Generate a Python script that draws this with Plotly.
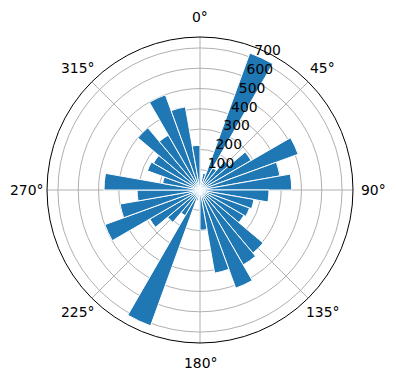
import math
import plotly.graph_objects as go

# 10-degree direction bins (start angle of each bin) and counts
bin_start = [0, 10, 20, 30, 40, 50, 60, 70, 80,
             90, 100, 110, 120, 130, 140, 150, 160, 170,
             180, 190, 200, 210, 220, 230, 240, 250, 260,
             270, 280, 290, 300, 310, 320, 330, 340, 350]
counts = [42, 83, 718, 125, 187, 291, 515, 400, 452,
          340, 270, 260, 250, 406, 426, 515, 416, 198,
          31, 52, 712, 146, 208, 286, 499, 400, 310,
          473, 187, 276, 265, 400, 312, 499, 416, 220]
bin_width = 10
theta_ticks = [0, 45, 90, 135, 180, 225, 270, 315]
theta_labels = [f"{t}°" for t in theta_ticks]
r_ticks = [100, 200, 300, 400, 500, 600, 700]
r_label_angle = 22.5

centers = [b + bin_width / 2 for b in bin_start]
rmax = max(counts) * 1.05

fig = go.Figure()
fig.add_trace(go.Barpolar(
    r=counts, theta=centers, width=[bin_width] * len(counts),
    marker=dict(color="#1f77b4", line=dict(color="white", width=1)),
    hoverinfo="skip",
))
fig.add_trace(go.Scatterpolar(
    r=r_ticks, theta=[r_label_angle] * len(r_ticks),
    mode="text", text=[str(v) for v in r_ticks],
    textposition="top right",
    textfont=dict(family="DejaVu Sans", size=13.9, color="black"),
    hoverinfo="skip", cliponaxis=False,
))

W, H = 396, 380
cx, cy, R = 200, 190, 153
label_pad_r = R * 1.131  # angular tick labels sit just outside the circle

annotations = []
for t, lab in zip(theta_ticks, theta_labels):
    a = math.radians(t)
    px = cx + label_pad_r * math.sin(a)
    py = cy - label_pad_r * math.cos(a)
    annotations.append(dict(
        x=px / W, y=1 - py / H, xref="paper", yref="paper",
        text=lab, showarrow=False, xanchor="center", yanchor="middle",
        font=dict(family="DejaVu Sans", size=13.9, color="black"),
    ))

fig.update_layout(
    width=W, height=H, margin=dict(l=0, r=0, t=0, b=0),
    paper_bgcolor="white", showlegend=False,
    font=dict(family="DejaVu Sans", size=13.9, color="black"),
    annotations=annotations,
    polar=dict(
        domain=dict(x=[(cx - R) / W, (cx + R) / W], y=[(H - cy - R) / H, (H - cy + R) / H]),
        bgcolor="white",
        bargap=0,
        angularaxis=dict(
            rotation=90, direction="clockwise",
            tickmode="array", tickvals=theta_ticks, showticklabels=False,
            showline=True, linecolor="black", linewidth=1,
            showgrid=True, gridcolor="#b0b0b0", gridwidth=0.8,
            ticks="",
        ),
        radialaxis=dict(
            range=[0, rmax], angle=67.5,
            tickmode="array", tickvals=r_ticks,
            showticklabels=False,
            showline=False, showgrid=True, gridcolor="#b0b0b0", gridwidth=0.8,
            ticks="",
        ),
    ),
)
fig.write_html("out.html")
